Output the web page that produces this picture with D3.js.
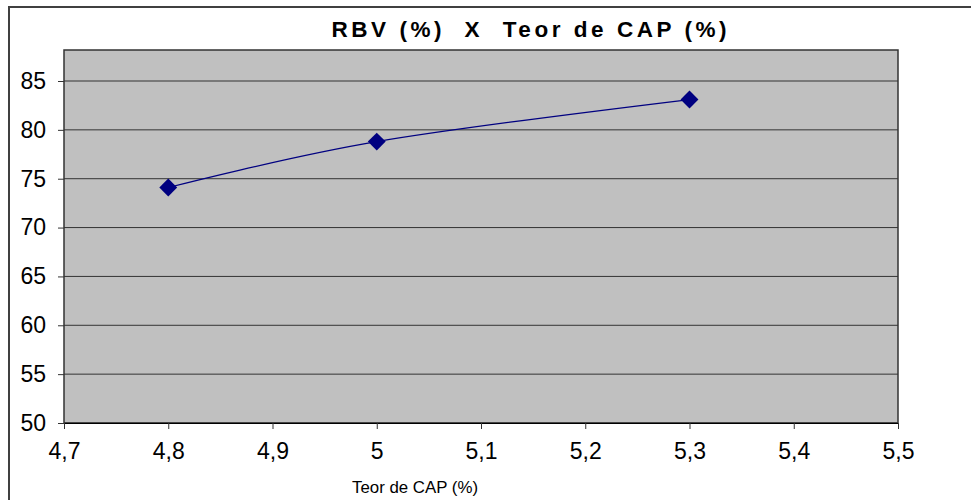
<!DOCTYPE html>
<html>
<head>
<meta charset="utf-8">
<script src="https://cdn.jsdelivr.net/npm/d3@7"></script>
<style>
  body { margin: 0; background: #fff; }
  text { font-family: "Liberation Sans", Arial, sans-serif; fill: #000; }
</style>
</head>
<body>
<script>
// data
var teorCAP = [4.8, 5.0, 5.3];
var rbv = [74.1, 78.8, 83.1];
var xTicks = [4.7, 4.8, 4.9, 5.0, 5.1, 5.2, 5.3, 5.4, 5.5];
var yTicks = [50, 55, 60, 65, 70, 75, 80, 85];

var W = 971, H = 500;
// plot area
var margin = {top: 50, right: 73, bottom: 77, left: 64},
    width = W - margin.left - margin.right,
    height = H - margin.top - margin.bottom;

var svg = d3.select("body").append("svg")
    .attr("width", W)
    .attr("height", H);

// outer chart border (runs off the right and bottom edges)
svg.append("path")
    .attr("d", "M9," + H + "V7H" + W)
    .attr("fill", "none")
    .attr("stroke", "#404040")
    .attr("stroke-width", 2);

var g = svg.append("g")
    .attr("transform", "translate(" + margin.left + "," + margin.top + ")");

var x = d3.scaleLinear().domain([4.7, 5.5]).range([0, width]);
// the plot area runs a bit past the top tick (85)
var y = d3.scaleLinear().domain([50, 85]).range([height, 31]);

var fmt = d => d3.format(".1f")(d).replace(".", ",").replace(/,0$/, "");

// plot background
g.append("rect")
    .attr("width", width)
    .attr("height", height)
    .attr("fill", "#c0c0c0");

// horizontal gridlines
g.selectAll(".grid")
    .data(yTicks)
  .enter().append("line")
    .attr("x1", 0).attr("x2", width)
    .attr("y1", d => y(d)).attr("y2", d => y(d))
    .attr("stroke", "#333")
    .attr("stroke-width", 1);

// plot border
g.append("rect")
    .attr("width", width)
    .attr("height", height)
    .attr("fill", "none")
    .attr("stroke", "#333")
    .attr("stroke-width", 1.5);

// y axis
var yAxis = g.append("g")
    .call(d3.axisLeft(y).tickValues(yTicks).tickSize(6).tickPadding(12).tickFormat(d3.format("d")));
yAxis.select(".domain").remove();
yAxis.selectAll(".tick line").attr("stroke", "#333");
yAxis.selectAll("text")
    .attr("font-size", 23)
    .attr("font-family", "Liberation Sans, Arial, sans-serif")
    .attr("fill", "#000");

// x axis
var xAxis = g.append("g")
    .attr("transform", "translate(0," + height + ")")
    .call(d3.axisBottom(x).tickValues(xTicks).tickSize(6).tickPadding(14).tickFormat(fmt));
xAxis.select(".domain").attr("stroke", "#000");
xAxis.selectAll(".tick line").attr("stroke", "#333");
xAxis.selectAll("text")
    .attr("font-size", 23)
    .attr("font-family", "Liberation Sans, Arial, sans-serif")
    .attr("fill", "#000");

var data = teorCAP.map((v, i) => ({x: v, y: rbv[i]}));

// smoothed line
var line = d3.line()
    .x(d => x(d.x))
    .y(d => y(d.y))
    .curve(d3.curveCatmullRom.alpha(0));

g.append("path")
    .datum(data)
    .attr("d", line)
    .attr("fill", "none")
    .attr("stroke", "#000080")
    .attr("stroke-width", 1.2);

// diamond markers
g.selectAll(".pt")
    .data(data)
  .enter().append("path")
    .attr("d", d3.symbol(d3.symbolSquare, 160))
    .attr("transform", d => "translate(" + x(d.x) + "," + y(d.y) + ") rotate(45)")
    .attr("fill", "#000080");

// title
svg.append("text")
    .attr("x", 529)
    .attr("y", 37)
    .attr("text-anchor", "middle")
    .attr("font-size", 22.5)
    .attr("font-weight", "bold")
    .style("white-space", "pre")
    .attr("textLength", 395)
    .attr("lengthAdjust", "spacing")
    .text("RBV (%)  X  Teor de CAP (%)");

// x axis title
svg.append("text")
    .attr("x", 415)
    .attr("y", 493)
    .attr("text-anchor", "middle")
    .attr("font-size", 17)
    .attr("textLength", 126)
    .attr("lengthAdjust", "spacingAndGlyphs")
    .text("Teor de CAP (%)");
</script>
</body>
</html>
